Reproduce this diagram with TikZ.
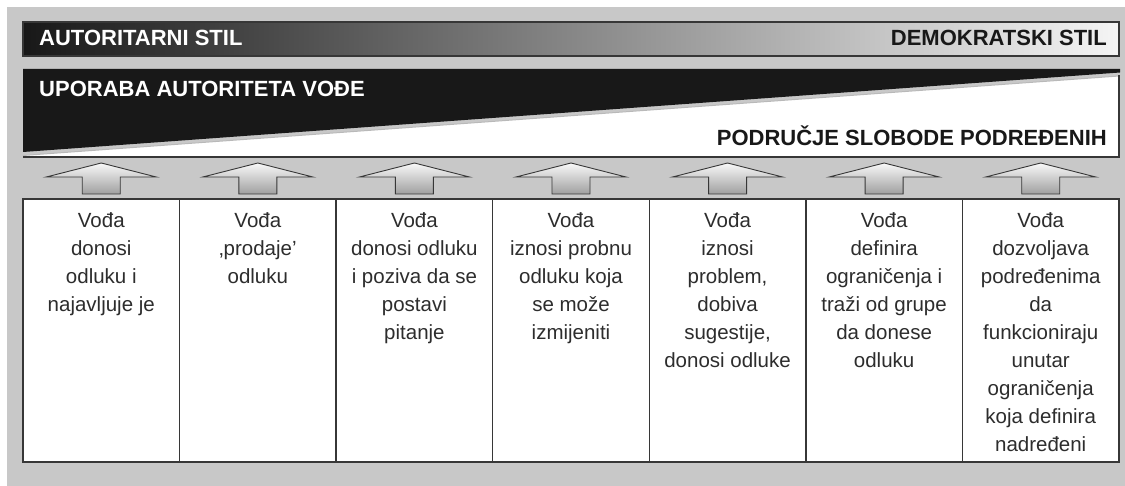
\documentclass[tikz,border=0pt]{standalone}
\usepackage{fontspec}
\setmainfont{Liberation Sans}
\usetikzlibrary{calc}
\definecolor{bg}{RGB}{200,200,200}
\definecolor{ink}{RGB}{24,24,24}
\definecolor{edge}{RGB}{55,55,55}
\definecolor{txt}{RGB}{45,45,45}
\begin{document}
\begin{tikzpicture}[x=1pt,y=-1pt,
  boxcell/.style={draw=edge, line width=1.3pt, fill=white, minimum width=156.57pt, minimum height=263pt, inner sep=0pt, outer sep=0pt, anchor=north west},
  celltext/.style={anchor=north, align=center, font=\fontsize{20.5}{28}\selectfont, text=txt, inner sep=0pt},
  uparrow/.style={draw=edge, line width=0.9pt, top color=gray!5, bottom color=gray!75, line join=miter},
  head/.style={font=\fontsize{22}{26}\selectfont\bfseries, inner sep=0pt}
]
\useasboundingbox (0,0) rectangle (1125,486);
\fill[bg] (7,7) rectangle (1125,486);

% top gradient bar
\node[draw=edge, line width=1.3pt, left color=ink, right color=white!96!black,
      minimum width=1096pt, minimum height=34pt, inner sep=0pt, outer sep=0pt,
      anchor=north west] (bar) at (23,22) {};
\node[head, text=white, anchor=base west] (auth) at (39,45.5) {AUTORITARNI STIL};
\node[head, text=ink, anchor=base east] (demo) at (1107,45.5) {DEMOKRATSKI STIL};

% authority / freedom wedge
\fill[ink] (23,69) -- (1120,69) -- (1120,72.5) -- (23,152) -- cycle;
\fill[white] (23,157) -- (23,155.5) -- (1119,76) -- (1119,157) -- cycle;
\draw[gray!55, line width=1pt] (23,155.5) -- (1119,76);
\draw[edge, line width=1.3pt] (1119,75.5) -- (1119,157) -- (23,157);
\node[head, text=white, anchor=base west] (use) at (39,96.5) {UPORABA AUTORITETA VOĐE};
\node[head, text=ink, anchor=base east] (free) at (1107,145.5) {PODRUČJE SLOBODE PODREĐENIH};

% boxes
\foreach \i in {1,...,7}{
  \node[boxcell] (b\i) at ({23+(\i-1)*156.57},199) {};
  \draw[uparrow] ($(b\i.north)+(-55,-22)$) -- ($(b\i.north)+(0,-36)$) --
    ($(b\i.north)+(55,-22)$) -- ($(b\i.north)+(19,-22)$) --
    ($(b\i.north)+(19,-5)$) -- ($(b\i.north)+(-19,-5)$) --
    ($(b\i.north)+(-19,-22)$) -- cycle;
}

\node[celltext] (t1) at ($(b1.north)+(0,13)$) {Vođa\\donosi\\odluku i\\najavljuje je};
\node[celltext] (t2) at ($(b2.north)+(0,13)$) {Vođa\\‚prodaje’\\odluku};
\node[celltext] (t3) at ($(b3.north)+(0,13)$) {Vođa\\donosi odluku\\i poziva da se\\postavi\\pitanje};
\node[celltext] (t4) at ($(b4.north)+(0,13)$) {Vođa\\iznosi probnu\\odluku koja\\se može\\izmijeniti};
\node[celltext] (t5) at ($(b5.north)+(0,13)$) {Vođa\\iznosi\\problem,\\dobiva\\sugestije,\\donosi odluke};
\node[celltext] (t6) at ($(b6.north)+(0,13)$) {Vođa\\definira\\ograničenja i\\traži od grupe\\da donese\\odluku};
\node[celltext] (t7) at ($(b7.north)+(0,13)$) {Vođa\\dozvoljava\\podređenima\\da\\funkcioniraju\\unutar\\ograničenja\\koja definira\\nadređeni};
\end{tikzpicture}
\end{document}
